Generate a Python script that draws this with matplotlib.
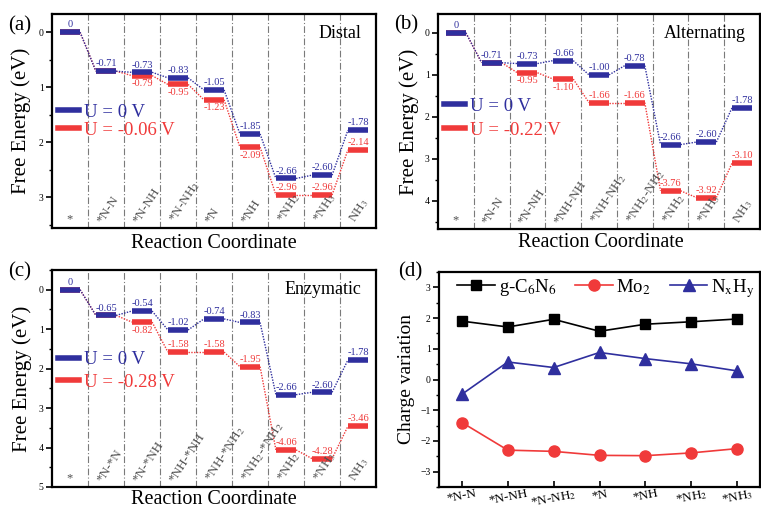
import numpy as np
import matplotlib
matplotlib.use("Agg")
import matplotlib.pyplot as plt
from matplotlib.lines import Line2D
from matplotlib.ticker import MultipleLocator

plt.rcParams['font.family'] = ['Liberation Serif', 'DejaVu Serif']
plt.rcParams['mathtext.fontset'] = 'stix'

BLUE = '#2F2F9E'
RED = '#F03A3A'
GREY = '#505050'

# ---------------- data ----------------
steps_a = ['*', '*N-N', '*N-NH', '*N-NH$_2$', '*N', '*NH', '*NH$_2$', '*NH$_3$', 'NH$_3$']
blue_a = [0, -0.71, -0.73, -0.83, -1.05, -1.85, -2.66, -2.60, -1.78]
red_a = [0, -0.71, -0.79, -0.95, -1.23, -2.09, -2.96, -2.96, -2.14]
redpos_a = [None, None, 'b', 'b', 'b', 'b', 'a', 'a', 'a']

steps_b = ['*', '*N-N', '*N-NH', '*NH-NH', '*NH-NH$_2$', '*NH$_2$-NH$_2$', '*NH$_2$', '*NH$_3$', 'NH$_3$']
blue_b = [0, -0.71, -0.73, -0.66, -1.00, -0.78, -2.66, -2.60, -1.78]
red_b = [0, -0.71, -0.95, -1.10, -1.66, -1.66, -3.76, -3.92, -3.10]
redpos_b = [None, None, 'b', 'b', 'a', 'a', 'a', 'a', 'a']

steps_c = ['*', '*N-*N', '*N-*NH', '*NH-*NH', '*NH-*NH$_2$', '*NH$_2$-*NH$_2$', '*NH$_2$', '*NH$_3$', 'NH$_3$']
blue_c = [0, -0.65, -0.54, -1.02, -0.74, -0.83, -2.66, -2.60, -1.78]
red_c = [0, -0.65, -0.82, -1.58, -1.58, -1.95, -4.06, -4.28, -3.46]
redpos_c = [None, None, 'b', 'a', 'a', 'a', 'a', 'a', 'a']

steps_d = ['*N-N', '*N-NH', '*N-NH$_2$', '*N', '*NH', '*NH$_2$', '*NH$_3$']
gc6n6 = [1.90, 1.71, 1.96, 1.57, 1.80, 1.88, 1.97]
mo2 = [-1.40, -2.30, -2.34, -2.47, -2.48, -2.39, -2.25]
nxhy = [-0.48, 0.57, 0.39, 0.88, 0.68, 0.51, 0.28]

W, H = 761, 509
fig = plt.figure(figsize=(W / 100, H / 100), dpi=100)


def px_axes(l, t, r, b):
    return fig.add_axes([l / W, 1 - b / H, (r - l) / W, (b - t) / H])


def energy_panel(ax, steps, blue, red, redpos, title, ulabel, ylim, legy, lspace):
    n = len(steps)
    x = np.arange(n) + 0.5
    hw = 0.28
    by = -np.array(blue, dtype=float)
    ry = -np.array(red, dtype=float)
    for xv in range(1, n):
        ax.axvline(xv, color='#7a7a7a', lw=0.8, ls=(0, (6, 2, 1, 2)), zorder=1)
    # red path
    for i in range(n - 1):
        ax.plot([x[i] + hw, x[i + 1] - hw], [ry[i], ry[i + 1]], color=RED, lw=1.0, ls=(0, (1, 1)), zorder=2)
    ax.hlines(ry, x - hw, x + hw, color=RED, lw=4, zorder=3)
    for i in range(n - 1):
        ax.plot([x[i] + hw, x[i + 1] - hw], [by[i], by[i + 1]], color=BLUE, lw=1.0, ls=(0, (1, 1)), zorder=4)
    ax.hlines(by, x - hw, x + hw, color=BLUE, lw=4, zorder=5)
    for i in range(n):
        lab = '0' if blue[i] == 0 else f'{blue[i]:.2f}'
        ax.annotate(lab, (x[i], by[i]), xytext=(0, 2), textcoords='offset points',
                    ha='center', va='bottom', color=BLUE, fontsize=7.5, zorder=6)
        if redpos[i] is not None:
            if redpos[i] == 'b':
                ax.annotate(f'{red[i]:.2f}', (x[i], ry[i]), xytext=(0, -2.5), textcoords='offset points',
                            ha='center', va='top', color=RED, fontsize=7.5, zorder=6)
            else:
                ax.annotate(f'{red[i]:.2f}', (x[i], ry[i]), xytext=(0, 2), textcoords='offset points',
                            ha='center', va='bottom', color=RED, fontsize=7.5, zorder=6)
    # category labels inside axes
    trans = ax.get_xaxis_transform()
    ax.text(x[0], 0.012, steps[0], transform=trans, ha='center', va='bottom', color=GREY, fontsize=9)
    for i in range(1, n):
        ax.text(i + 0.18, 0.012, steps[i], transform=trans, ha='left', va='bottom',
                rotation=57, color=GREY, fontsize=9.5)
    ax.set_xlim(0, n)
    ax.set_ylim(*ylim)
    ax.set_xticks([])
    ax.yaxis.set_major_locator(MultipleLocator(1))
    ax.yaxis.set_minor_locator(MultipleLocator(0.5))
    ax.tick_params(axis='y', which='major', direction='out', length=4, width=1.2, labelsize=7, pad=2)
    ax.tick_params(axis='y', which='minor', direction='out', length=2, width=1.0)
    for s in ax.spines.values():
        s.set_linewidth(1.6)
    ax.set_ylabel('Free Energy (eV)', fontsize=15)
    ax.set_xlabel('Reaction Coordinate', fontsize=14.5)
    ax.text(0.955, 0.91, title, transform=ax.transAxes, ha='right', va='center', fontsize=13)
    handles = [Line2D([], [], color=BLUE, lw=4), Line2D([], [], color=RED, lw=4)]
    leg = ax.legend(handles, ['U = 0 V', ulabel], loc='center left', bbox_to_anchor=(-0.005, legy),
                    frameon=False, fontsize=13.5, handlelength=1.1, handletextpad=0.3,
                    labelspacing=lspace, borderaxespad=0)
    for t, c in zip(leg.get_texts(), [BLUE, RED]):
        t.set_color(c)


ax_a = px_axes(52, 14, 376, 228)
energy_panel(ax_a, steps_a, blue_a, red_a, redpos_a, 'Distal', 'U = -0.06 V', (3.56, -0.33), 0.50, 0.05)
ax_a.yaxis.set_label_coords(-0.066, 0.5)
ax_a.xaxis.set_label_coords(0.5, -0.03)

ax_b = px_axes(438, 14, 760, 229)
energy_panel(ax_b, steps_b, blue_b, red_b, redpos_b, 'Alternating', 'U = -0.22 V', (4.67, -0.45), 0.515, 0.35)
ax_b.yaxis.set_label_coords(-0.06, 0.5)
ax_b.xaxis.set_label_coords(0.505, -0.02)

ax_c = px_axes(52, 270, 376, 487)
energy_panel(ax_c, steps_c, blue_c, red_c, redpos_c, 'Enzymatic', 'U = -0.28 V', (5.0, -0.5), 0.535, 0.3)
ax_c.yaxis.set_label_coords(-0.062, 0.5)
ax_c.xaxis.set_label_coords(0.5, -0.015)

# ---------------- panel d ----------------
ax_d = px_axes(439, 272, 760, 487)
xd = np.arange(1, len(steps_d) + 1)
ax_d.plot(xd, gc6n6, color='black', lw=1.2, marker='s', ms=6.5, label='g-C$_6$N$_6$')
ax_d.plot(xd, mo2, color=RED, lw=1.2, marker='o', ms=8, label='Mo$_2$')
ax_d.plot(xd, nxhy, color=BLUE, lw=1.2, marker='^', ms=8.5, label='N$_\\mathrm{x}$H$_\\mathrm{y}$')
ax_d.set_xlim(0.5, len(steps_d) + 0.5)
ax_d.set_ylim(-3.5, 3.5)
ax_d.set_xticks(xd)
ax_d.set_xticklabels(steps_d, rotation=11, fontsize=9.5, ha='center')
ax_d.yaxis.set_major_locator(MultipleLocator(1))
ax_d.yaxis.set_minor_locator(MultipleLocator(0.5))
ax_d.tick_params(axis='x', direction='in', length=4, width=1.2, pad=0.5)
ax_d.tick_params(axis='y', which='major', direction='out', length=4, width=1.2, labelsize=7, pad=2)
ax_d.tick_params(axis='y', which='minor', direction='out', length=2, width=1.0)
for s in ax_d.spines.values():
    s.set_linewidth(1.6)
ax_d.set_ylabel('Charge variation', fontsize=14)
ax_d.yaxis.set_label_coords(-0.075, 0.5)
ax_d.legend(loc='center', bbox_to_anchor=(0.52, 0.925), ncol=3, frameon=False, fontsize=13.5,
            handlelength=2.0, handletextpad=0.2, columnspacing=1.0, borderaxespad=0)

fig.text(8 / W, 1 - 26 / H, '(a)', fontsize=15, va='center', ha='left')
fig.text(394 / W, 1 - 25 / H, '(b)', fontsize=15, va='center', ha='left')
fig.text(8 / W, 1 - 272 / H, '(c)', fontsize=15, va='center', ha='left')
fig.text(398 / W, 1 - 272 / H, '(d)', fontsize=15, va='center', ha='left')

fig.savefig('out.png', dpi=100)
